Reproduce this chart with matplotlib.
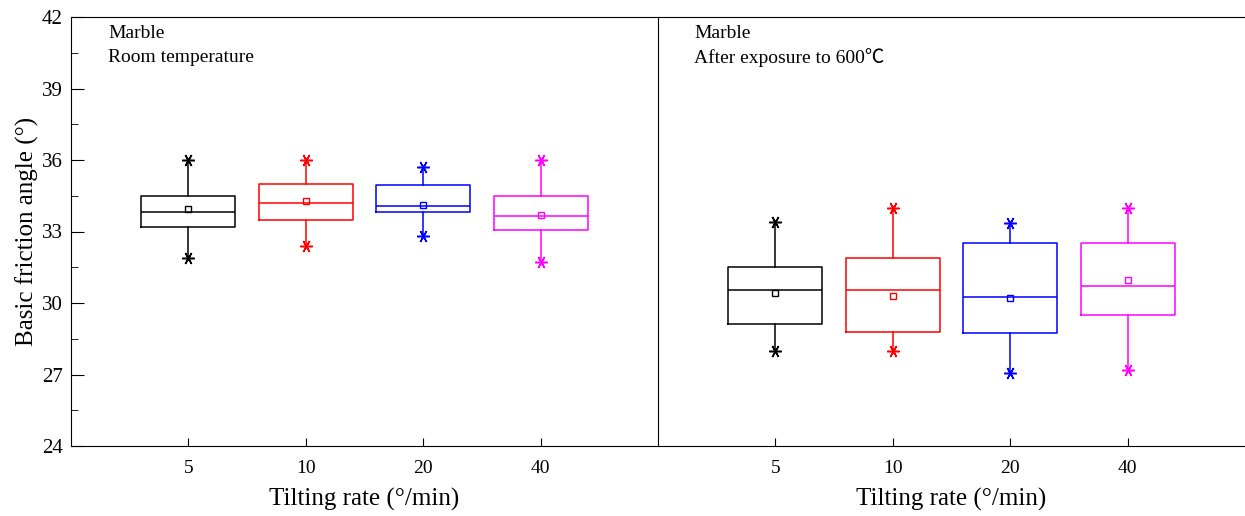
import matplotlib
matplotlib.use("Agg")
import matplotlib.pyplot as plt
from matplotlib.ticker import MultipleLocator

plt.rcParams['font.family'] = ['Liberation Serif', 'Noto Sans CJK SC', 'DejaVu Sans']

rates = ["5", "10", "20", "40"]
colors = ["black", "red", "blue", "magenta"]

# Room temperature
rt_whislo = [31.9, 32.4, 32.8, 31.7]
rt_q1 = [33.2, 33.5, 33.8, 33.05]
rt_med = [33.8, 34.2, 34.05, 33.65]
rt_q3 = [34.5, 35.0, 34.97, 34.5]
rt_whishi = [36.0, 36.0, 35.7, 36.0]
rt_mean = [33.95, 34.3, 34.13, 33.7]

# After exposure to 600 C
ht_whislo = [28.0, 28.0, 27.05, 27.2]
ht_q1 = [29.1, 28.8, 28.75, 29.5]
ht_med = [30.55, 30.55, 30.25, 30.7]
ht_q3 = [31.5, 31.9, 32.5, 32.5]
ht_whishi = [33.4, 34.0, 33.35, 34.0]
ht_mean = [30.42, 30.28, 30.2, 30.95]

fig = plt.figure(figsize=(12.45, 5.16), dpi=100)
ax1 = fig.add_axes([71/1245, 1-446/516, 587/1245, 429/516])
ax2 = fig.add_axes([658/1245, 1-446/516, 587/1245, 429/516])

star = (6, 2, 90)

def draw(ax, lo, q1, med, q3, hi, mean):
    for i in range(len(rates)):
        pos = i + 1
        c = colors[i]
        stats = [dict(whislo=lo[i], q1=q1[i], med=med[i], q3=q3[i], whishi=hi[i], fliers=[])]
        ax.bxp(stats, positions=[pos], widths=0.8, showcaps=False, showfliers=False,
               boxprops=dict(color=c, linewidth=1.1),
               whiskerprops=dict(color=c, linewidth=1.1),
               medianprops=dict(color=c, linewidth=1.1))
        ax.plot([pos, pos], [lo[i], hi[i]], linestyle='none', marker=star, markersize=9,
                markeredgewidth=1.1, color=c)
        ax.plot([pos], [mean[i]], linestyle='none', marker='s', markersize=5,
                markerfacecolor='white', markeredgecolor=c, markeredgewidth=1.0)
    ax.set_xlim(0, 5)
    ax.set_ylim(24, 42)
    ax.set_xticks([1, 2, 3, 4])
    ax.set_xticklabels(rates, fontsize=14)
    ax.tick_params(axis='x', direction='in', length=6, pad=10)
    ax.set_xlabel("Tilting rate (°/min)", fontsize=18, labelpad=8)

draw(ax1, rt_whislo, rt_q1, rt_med, rt_q3, rt_whishi, rt_mean)
draw(ax2, ht_whislo, ht_q1, ht_med, ht_q3, ht_whishi, ht_mean)

ax1.yaxis.set_major_locator(MultipleLocator(3))
ax1.yaxis.set_minor_locator(MultipleLocator(1.5))
ax1.tick_params(axis='y', which='major', direction='in', length=9, labelsize=15, pad=6)
ax1.tick_params(axis='y', which='minor', direction='in', length=5)
ax1.set_ylabel("Basic friction angle (°)", fontsize=18)
ax1.yaxis.set_label_coords((39-71)/587, 0.5)

ax2.set_yticks([])
ax2.spines['right'].set_visible(False)
ax1.spines['right'].set_visible(False)

ax1.text((108-71)/587, 1-(34-17)/429, "Marble", transform=ax1.transAxes, fontsize=14, va='center', ha='left')
ax1.text((108-71)/587, 1-(58-17)/429, "Room temperature", transform=ax1.transAxes, fontsize=14, va='center', ha='left')
ax2.text((694-658)/587, 1-(34-17)/429, "Marble", transform=ax2.transAxes, fontsize=14, va='center', ha='left')
ax2.text((694-658)/587, 1-(58-17)/429, "After exposure to 600℃", transform=ax2.transAxes, fontsize=14, va='center', ha='left')

fig.savefig("out.png", dpi=100)
